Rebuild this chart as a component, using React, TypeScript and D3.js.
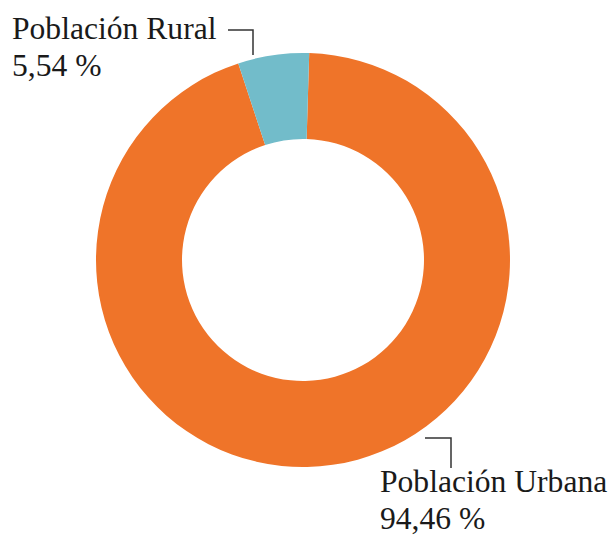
import React from "react";
import * as d3 from "d3";

const categories = ["Población Urbana", "Población Rural"];
const values = [94.46, 5.54];
const valueLabels = ["94,46 %", "5,54 %"];
const colors = ["#EF7429", "#72BCCA"];

const W = 613;
const H = 535;
const cx = 303;
const cy = 260;
const outerR = 207;
const innerR = 121;
const startOffset = 0.03;

export default function App() {
  const pie = d3
    .pie<number>()
    .sort(null)
    .startAngle(startOffset)
    .endAngle(Math.PI * 2 + startOffset)
    .value((d) => d);
  const arcs = pie(values);
  const arc = d3.arc<d3.PieArcDatum<number>>().innerRadius(innerR).outerRadius(outerR);

  const textStyle: React.CSSProperties = {
    fontFamily:
      '"Liberation Serif", "Noto Serif", "DejaVu Serif", Tinos, FreeSerif, Times, serif',
    fontSize: "31.6px",
    fill: "#1a1a1a",
  };

  return (
    <svg
      width={W}
      height={H}
      style={{ position: "absolute", left: 0, top: 0, background: "#fff" }}
    >
      <g transform={`translate(${cx},${cy})`}>
        {arcs.map((a, i) => (
          <path key={i} d={arc(a) || ""} fill={colors[i]} />
        ))}
      </g>
      <polyline
        points="228,30 253,30 253,55"
        fill="none"
        stroke="#333"
        strokeWidth={1.5}
      />
      <text x={12} y={38.5} style={textStyle}>
        {categories[1]}
      </text>
      <text x={12} y={76} style={textStyle}>
        {valueLabels[1]}
      </text>
      <polyline
        points="425,438 451,438 451,468"
        fill="none"
        stroke="#333"
        strokeWidth={1.5}
      />
      <text x={380} y={492} style={textStyle}>
        {categories[0]}
      </text>
      <text x={380} y={529} style={textStyle}>
        {valueLabels[0]}
      </text>
    </svg>
  );
}
